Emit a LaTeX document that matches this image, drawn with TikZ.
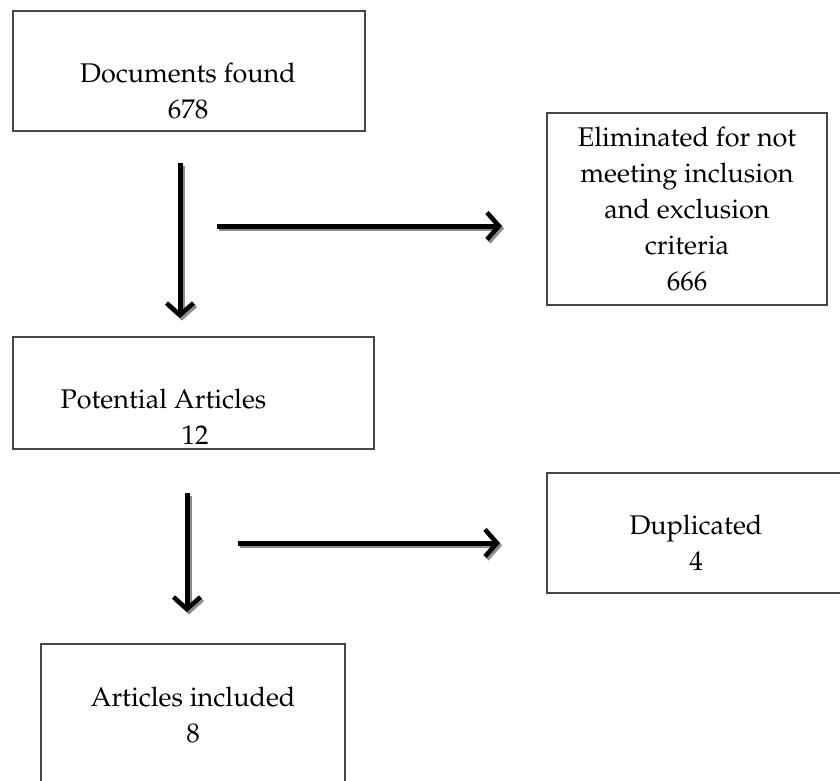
\documentclass[tikz,border=0pt]{standalone}
\usepackage[T1]{fontenc}
\usepackage{mathpazo}
\usetikzlibrary{arrows.meta}
\tikzset{
  box/.style={draw=black!72, line width=1.4pt, rectangle, inner sep=0pt},
  label/.style={align=center, inner sep=0pt, font=\fontsize{27}{36}\selectfont},
  flow/.style={line width=5pt, -{Straight Barb[length=12pt,width=27pt,line width=4.5pt]}},
  flowshadow/.style={flow, draw=black!45, transform canvas={shift={(2pt,-2.5pt)}}}
}
\begin{document}
\begin{tikzpicture}[x=1pt,y=-1pt]
\useasboundingbox (0,0) rectangle (840,781);
\clip (0,0) rectangle (840,781);
% boxes
\node[box, minimum width=352pt, minimum height=120pt] (b1) at (189,71) {};
\node[box, minimum width=280pt, minimum height=192pt] (b2) at (687,209) {};
\node[box, minimum width=361pt, minimum height=112pt] (b3) at (193.5,393) {};
\node[box, minimum width=300pt, minimum height=120pt] (b4) at (697,533) {};
\node[box, minimum width=304pt, minimum height=156pt] (b5) at (193,722) {};
% texts
\node[label] (t1) at (188,91) {Documents found\\678};
\node[label] (t2) at (687,209) {Eliminated for not\\meeting inclusion\\and exclusion\\criteria\\666};
\node[label] (t3) at (195,417) {Potential Articles\makebox[63pt]{}\\12};
\node[label] (t4) at (696,543) {Duplicated\\4};
\node[label] (t5) at (193,715) {Articles included\\8};
% arrow end points
\coordinate (a1s) at (180,163);
\coordinate (a1e) at (180,318);
\coordinate (a2s) at (217,226);
\coordinate (a2e) at (502,226);
\coordinate (a3s) at (187,493);
\coordinate (a3e) at (187,612);
\coordinate (a4s) at (238,543);
\coordinate (a4e) at (500,543);
% shadows
\draw[flowshadow] (a1s) -- (a1e);
\draw[flowshadow] (a2s) -- (a2e);
\draw[flowshadow] (a3s) -- (a3e);
\draw[flowshadow] (a4s) -- (a4e);
% arrows
\draw[flow] (a1s) -- (a1e);
\draw[flow] (a2s) -- (a2e);
\draw[flow] (a3s) -- (a3e);
\draw[flow] (a4s) -- (a4e);
\end{tikzpicture}
\end{document}
